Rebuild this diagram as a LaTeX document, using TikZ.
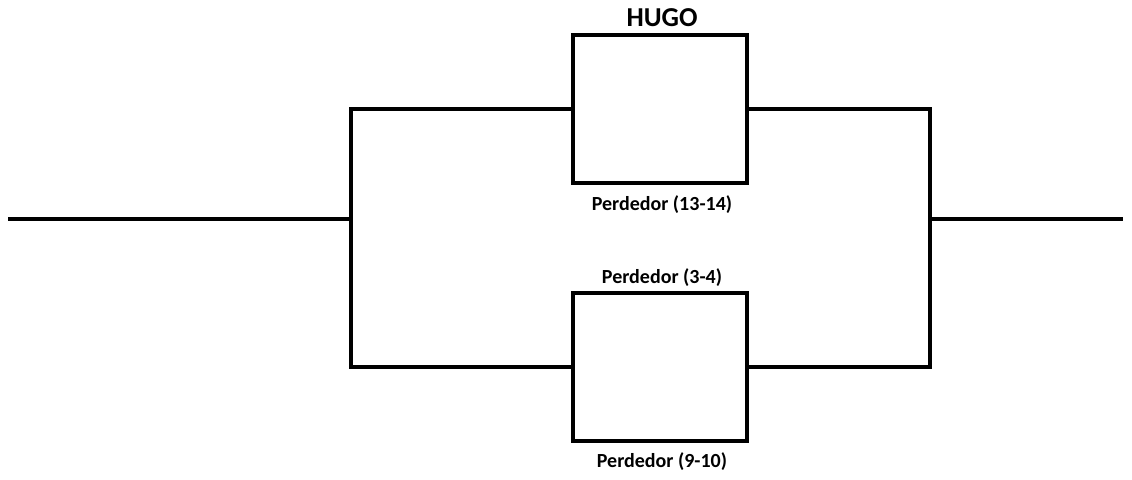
\documentclass[tikz,border=0pt]{standalone}
\usepackage{fontspec}
\setmainfont{Carlito}
\begin{document}
\begin{tikzpicture}[x=0.75pt,y=-0.75pt,
  blk/.style={draw,line width=2.5pt,minimum width=130.5pt,minimum height=111pt,inner sep=0pt},
  wire/.style={line width=2.5pt},
  lbl/.style={font=\bfseries\fontsize{15}{18}\selectfont,inner sep=0pt},
  ttl/.style={font=\bfseries\fontsize{20.5}{24}\selectfont,inner sep=0pt}]
\useasboundingbox (0,0) rectangle (1132,479);
\node[blk] (top) at (660,109) {};
\node[blk] (bot) at (660,367) {};
\coordinate (in) at (8,219);
\coordinate (out) at (1123,219);
\coordinate (lt) at (351,109);
\coordinate (lb) at (351,367);
\coordinate (lm) at (351,219);
\coordinate (rt) at (930,109);
\coordinate (rb) at (930,367);
\coordinate (rm) at (930,219);
\draw[wire] (in) -- (lm);
\draw[wire] (rm) -- (out);
\draw[wire] (top.west) -- (lt) -- (lb) -- (bot.west);
\draw[wire] (top.east) -- (rt) -- (rb) -- (bot.east);
\node[ttl] (hugo) at (662,18) {HUGO};
\node[lbl] (l1) at (662,205) {Perdedor (13-14)};
\node[lbl] (l2) at (662,278) {Perdedor (3-4)};
\node[lbl] (l3) at (662,462) {Perdedor (9-10)};
\end{tikzpicture}
\end{document}
